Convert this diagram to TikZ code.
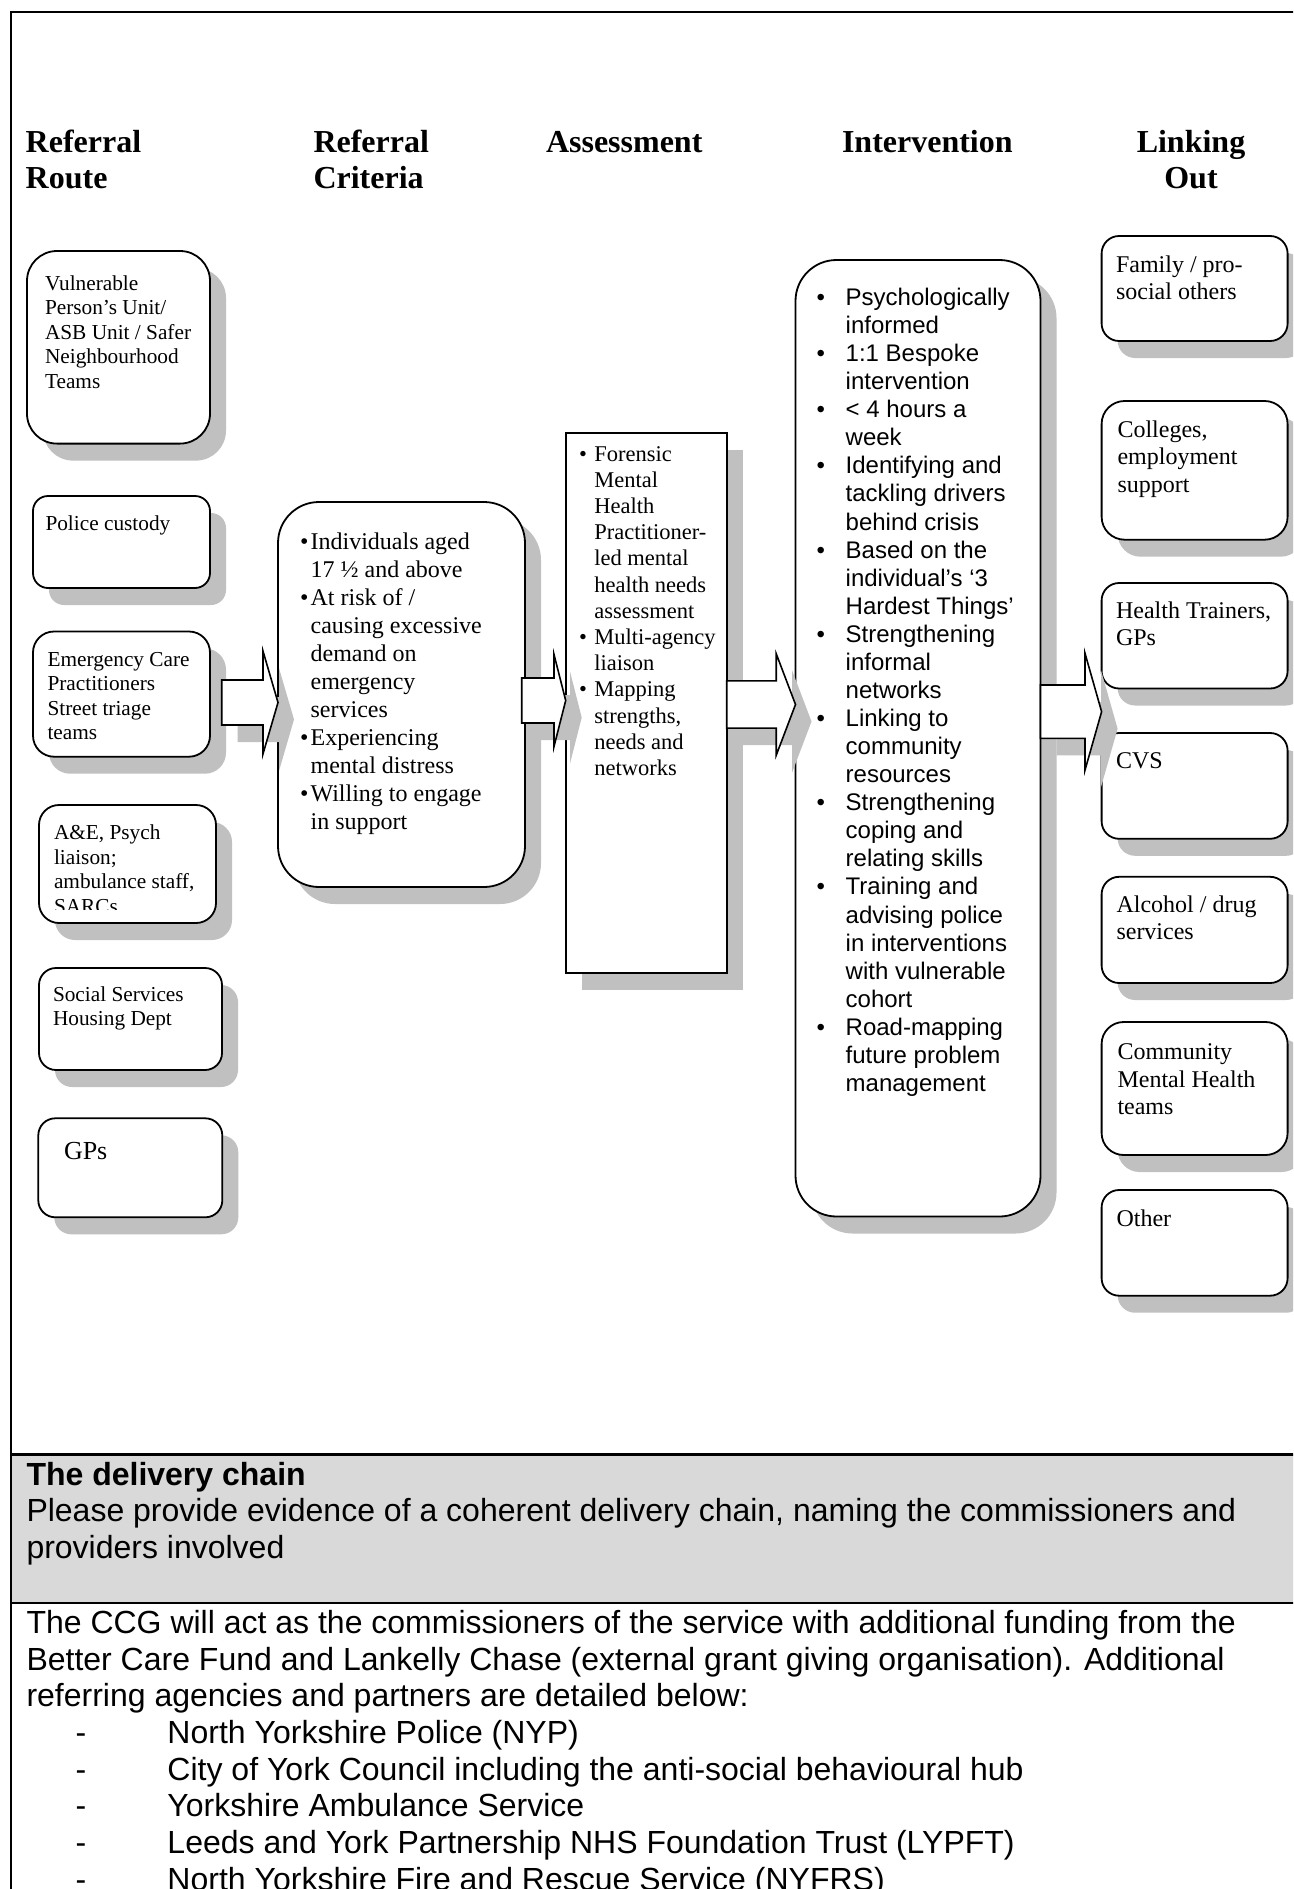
\documentclass[tikz,border=0pt]{standalone}
\usepackage{fontspec}
\setmainfont{Liberation Serif}
\newfontfamily\arialfont{Liberation Sans}
\usetikzlibrary{calc,fit}

\definecolor{shadowgray}{RGB}{192,192,192}
\definecolor{bandgray}{RGB}{217,217,217}

\newlength\listhang
\newcommand\itembul{\makebox[\listhang][l]{•}}
\newcommand\itemind{\hspace*{\listhang}}
% multi-line text whose reference point is the first baseline
\newcommand\lstack[1]{\begin{tabular}[t]{@{}l@{}}#1\end{tabular}}
\newcommand\cstack[1]{\begin{tabular}[t]{@{}c@{}}#1\end{tabular}}

\tikzset{
  panel/.style={draw=black, line width=1.8pt, fill=white, inner sep=0pt, outer sep=0pt},
  lbl/.style={inner sep=0pt, outer sep=0pt, anchor=base west},
  head/.style={lbl, font=\fontsize{32}{36}\selectfont\bfseries},
  small/.style={font=\fontsize{21.3}{24.5}\selectfont},
  mid/.style={font=\fontsize{24}{27.4}\selectfont},
  crittext/.style={font=\fontsize{24}{28}\selectfont},
  assesstext/.style={font=\fontsize{22.5}{26.2}\selectfont},
  sanstext/.style={font=\arialfont\fontsize{24}{28.07}\selectfont},
  bodytext/.style={font=\arialfont\fontsize{32}{36.8}\selectfont},
  hang/.code={\setlength\listhang{#1}},
  arrowbody/.style={draw=black, line width=1.6pt, fill=white, line join=miter},
  arrowshade/.style={fill=shadowgray},
}

% rounded panel with an offset grey shadow: name, x1, y1, x2, y2, corner options
\newcommand\panel[6]{%
  \fill[shadowgray, #6] (#2+16,#3+17) rectangle (#4+16,#5+17);
  \node[panel, #6, fit={(#2,#3) (#4,#5)}] (#1) {};
}

% block arrow with shadow: start, tip, head length, shaft half-height, head half-height
\newcommand\blockarrow[5]{%
  \fill[arrowshade] ($(#1)+(16,17-#4)$) -- ($(#2)+(16-#3,17-#4)$) -- ($(#2)+(16-#3,17-#5)$)
    -- ($(#2)+(16,17)$) -- ($(#2)+(16-#3,17+#5)$) -- ($(#2)+(16-#3,17+#4)$)
    -- ($(#1)+(16,17+#4)$) -- cycle;
  \draw[arrowbody] ($(#1)+(0,-#4)$) -- ($(#2)+(-#3,-#4)$) -- ($(#2)+(-#3,-#5)$)
    -- (#2) -- ($(#2)+(-#3,#5)$) -- ($(#2)+(-#3,#4)$) -- ($(#1)+(0,#4)$) -- cycle;
}

\begin{document}
\begin{tikzpicture}[x=1pt,y=-1pt]
\useasboundingbox (0,0) rectangle (1293,1889);
\clip (0,0) rectangle (1293,1889);
\fill[white] (0,0) rectangle (1293,1889);

% delivery chain band
\fill[bandgray] (11,1454.5) rectangle (1320,1603);
\draw[line width=2.5pt] (11,1454.5) -- (1320,1454.5);
\draw[line width=2.5pt] (11,1603) -- (1320,1603);

% outer frame
\draw[line width=2.5pt] (11,12) rectangle (1320,1920);

% column headings
\node[head] (h-route) at (25.7,153) {\lstack{Referral\\Route}};
\node[head] (h-crit) at (313.5,153) {\lstack{Referral\\Criteria}};
\node[head] (h-assess) at (546,153) {Assessment};
\node[head] (h-interv) at (842,153) {Intervention};
\node[head, anchor=base] (h-link) at (1191,153) {\cstack{Linking\\Out}};

% referral routes
\panel{vpu}{27}{251}{210}{443.6}{rounded corners=30pt}
\node[lbl, small] (vpu-t) at (45,290) {\lstack{Vulnerable\\Person’s Unit/\\ASB Unit / Safer\\Neighbourhood\\Teams}};
\panel{pol}{33}{496}{210}{588}{rounded corners=15pt}
\node[lbl, small] (pol-t) at (45.5,530) {Police custody};
\panel{ecp}{33}{631.5}{210}{756.7}{rounded corners=21pt}
\node[lbl, small] (ecp-t) at (47.5,666) {\lstack{Emergency Care\\Practitioners\\Street triage\\teams}};
\panel{ae}{39}{805}{216}{923}{rounded corners=20pt}
\begin{scope}
  \clip (39,805) rectangle (216,909);
  \node[lbl, small] (ae-t) at (54,839.6) {\lstack{A\&E, Psych\\liaison;\\ambulance staff,\\SARCs}};
\end{scope}
\panel{soc}{39}{968}{222}{1070}{rounded corners=17pt}
\node[lbl, small] (soc-t) at (53,1001) {\lstack{Social Services\\Housing Dept}};
\panel{gps}{38.3}{1118.3}{222.3}{1217.3}{rounded corners=17pt}
\node[lbl, font=\fontsize{26}{30}\selectfont] (gps-t) at (64,1159.3) {GPs};

% referral criteria
\panel{crit}{278}{502}{525}{887}{rounded corners=41pt}
\node[lbl, crittext, hang=10.6pt] (crit-t) at (300,549.6) {\lstack{%
\itembul Individuals aged\\\itemind 17 ½ and above\\
\itembul At risk of /\\\itemind causing excessive\\\itemind demand on\\\itemind emergency\\\itemind services\\
\itembul Experiencing\\\itemind mental distress\\
\itembul Willing to engage\\\itemind in support}};

% assessment
\panel{assess}{565.7}{433.3}{726.7}{973}{sharp corners}
\node[lbl, assesstext, hang=15.3pt] (assess-t) at (579,461) {\lstack{%
\itembul Forensic\\\itemind Mental\\\itemind Health\\\itemind Practitioner-\\\itemind led mental\\\itemind health needs\\\itemind assessment\\
\itembul Multi-agency\\\itemind liaison\\
\itembul Mapping\\\itemind strengths,\\\itemind needs and\\\itemind networks}};

% intervention
\panel{interv}{795.5}{260}{1040.5}{1216.5}{rounded corners=41pt}
\node[lbl, sanstext, hang=29.2pt] (interv-t) at (816.5,305.5) {\lstack{%
\itembul Psychologically\\\itemind informed\\
\itembul 1:1 Bespoke\\\itemind intervention\\
\itembul < 4 hours a\\\itemind week\\
\itembul Identifying and\\\itemind tackling drivers\\\itemind behind crisis\\
\itembul Based on the\\\itemind individual’s ‘3\\\itemind Hardest Things’\\
\itembul Strengthening\\\itemind informal\\\itemind networks\\
\itembul Linking to\\\itemind community\\\itemind resources\\
\itembul Strengthening\\\itemind coping and\\\itemind relating skills\\
\itembul Training and\\\itemind advising police\\\itemind in interventions\\\itemind with vulnerable\\\itemind cohort\\
\itembul Road-mapping\\\itemind future problem\\\itemind management}};

% linking out
\panel{fam}{1101.6}{236}{1287.6}{341}{rounded corners=17.5pt}
\node[lbl, mid] (fam-t) at (1116,272.5) {\lstack{Family / pro-\\social others}};
\panel{col}{1101.6}{401}{1287.6}{539.7}{rounded corners=23pt}
\node[lbl, mid] (col-t) at (1117.5,437.5) {\lstack{Colleges,\\employment\\support}};
\panel{hlth}{1101.6}{583}{1287.6}{688.5}{rounded corners=17.5pt}
\node[lbl, mid] (hlth-t) at (1116,618.5) {\lstack{Health Trainers,\\GPs}};
\panel{cvs}{1101.6}{733}{1287.6}{838.8}{rounded corners=17.5pt}
\node[lbl, mid] (cvs-t) at (1116,768.8) {CVS};
\panel{alc}{1101.6}{876.8}{1287.6}{983}{rounded corners=17.5pt}
\node[lbl, mid] (alc-t) at (1116.5,912.5) {\lstack{Alcohol / drug\\services}};
\panel{cmh}{1101.6}{1022}{1287.6}{1155}{rounded corners=22pt}
\node[lbl, mid] (cmh-t) at (1117.5,1059.8) {\lstack{Community\\Mental Health\\teams}};
\panel{oth}{1101.6}{1190}{1287.6}{1295.7}{rounded corners=17.5pt}
\node[lbl, mid] (oth-t) at (1116.5,1226) {Other};

% block arrows between the stages
\coordinate (a1s) at (221.7,702.5);
\coordinate (a1t) at (crit.west |- a1s);
\blockarrow{a1s}{a1t}{15}{22.5}{51.4}
\coordinate (a2s) at (521.7,700.5);
\coordinate (a2t) at (assess.west |- a2s);
\blockarrow{a2s}{a2t}{11.7}{22.5}{46}
\coordinate (a3s) at (726.7,704.5);
\coordinate (a3t) at (interv.west |- a3s);
\blockarrow{a3s}{a3t}{19.3}{23.6}{50.8}
\coordinate (a4s) at (1040.5,711.7);
\coordinate (a4t) at (hlth.west |- a4s);
\blockarrow{a4s}{a4t}{16.6}{26.7}{58.4}

% delivery chain text
\node[lbl, bodytext] (dc-title) at (26.5,1485) {\bfseries The delivery chain};
\node[lbl, bodytext] (dc-ask) at (26.5,1521.7) {\lstack{Please provide evidence of a coherent delivery chain, naming the commissioners and\\providers involved}};
\node[lbl, bodytext] (dc-text) at (26.5,1633.3) {\lstack{The CCG will act as the commissioners of the service with additional funding from the\\Better Care Fund and Lankelly Chase (external grant giving organisation). Additional\\referring agencies and partners are detailed below:}};
\node[lbl, bodytext] (dc-list) at (75.5,1743.3) {\lstack{%
\makebox[92pt][l]{-}North Yorkshire Police (NYP)\\
\makebox[92pt][l]{-}City of York Council including the anti-social behavioural hub\\
\makebox[92pt][l]{-}Yorkshire Ambulance Service\\
\makebox[92pt][l]{-}Leeds and York Partnership NHS Foundation Trust (LYPFT)\\
\makebox[92pt][l]{-}North Yorkshire Fire and Rescue Service (NYFRS)}};
\end{tikzpicture}
\end{document}
